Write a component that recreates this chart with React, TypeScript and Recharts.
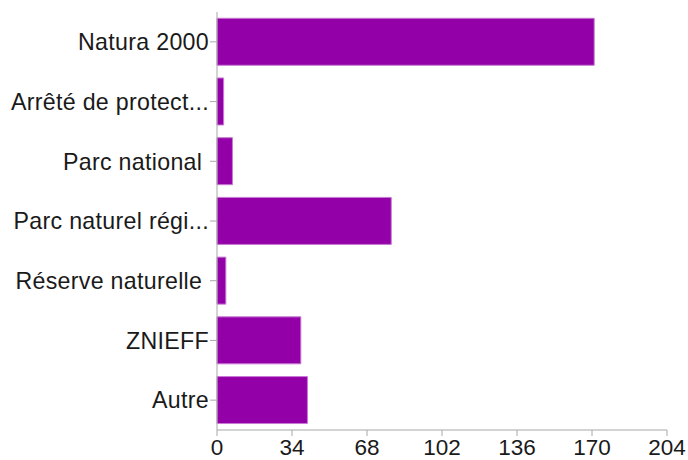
import React from 'react';
import { BarChart, Bar, XAxis, YAxis } from 'recharts';

// categories as shown (long ones are cut off in the original)
const categories = [
  'Natura 2000',
  'Arrêté de protect...',
  'Parc national ',
  'Parc naturel régi...',
  'Réserve naturelle ',
  'ZNIEFF',
  'Autre',
];
const counts = [171, 3, 7, 79, 4, 38, 41];
const xTicks = [0, 34, 68, 102, 136, 170, 204];

const data = categories.map((name, i) => ({ name, value: counts[i] }));

const AXIS = '#a8a8a8';
const FONT = '"Liberation Sans", Arial, Helvetica, sans-serif';

const YTick = (props: any) => {
  const { x, y, payload } = props;
  return (
    <text
      x={x}
      y={y}
      dy="0.36em"
      textAnchor="end"
      fill="#1a1a1a"
      fontSize={23.2}
      letterSpacing={0.3}
      fontFamily={FONT}
      style={{ whiteSpace: 'pre' }}
    >
      {payload.value}
    </text>
  );
};

const App: React.FC = () => {
  return (
    <div style={{ position: 'absolute', left: 0, top: 0, width: 688, height: 460, background: '#fff' }}>
      <BarChart
        width={688}
        height={460}
        data={data}
        layout="vertical"
        margin={{ top: 12, right: 21, bottom: 0, left: 0 }}
        barCategoryGap="10.5%"
      >
        <XAxis
          type="number"
          domain={[0, 204]}
          ticks={xTicks}
          interval={0}
          height={30}
          stroke={AXIS}
          tickSize={6}
          tickMargin={3}
          tick={{ fill: '#1a1a1a', fontSize: 22.5, fontFamily: FONT }}
        />
        <YAxis
          type="category"
          dataKey="name"
          width={217}
          stroke={AXIS}
          tickSize={7}
          tickMargin={1}
          interval={0}
          tick={<YTick />}
        />
        <Bar dataKey="value" fill="#9400a8" stroke="#c77ad3" strokeWidth={1} isAnimationActive={false} />
      </BarChart>
    </div>
  );
};

export default App;
